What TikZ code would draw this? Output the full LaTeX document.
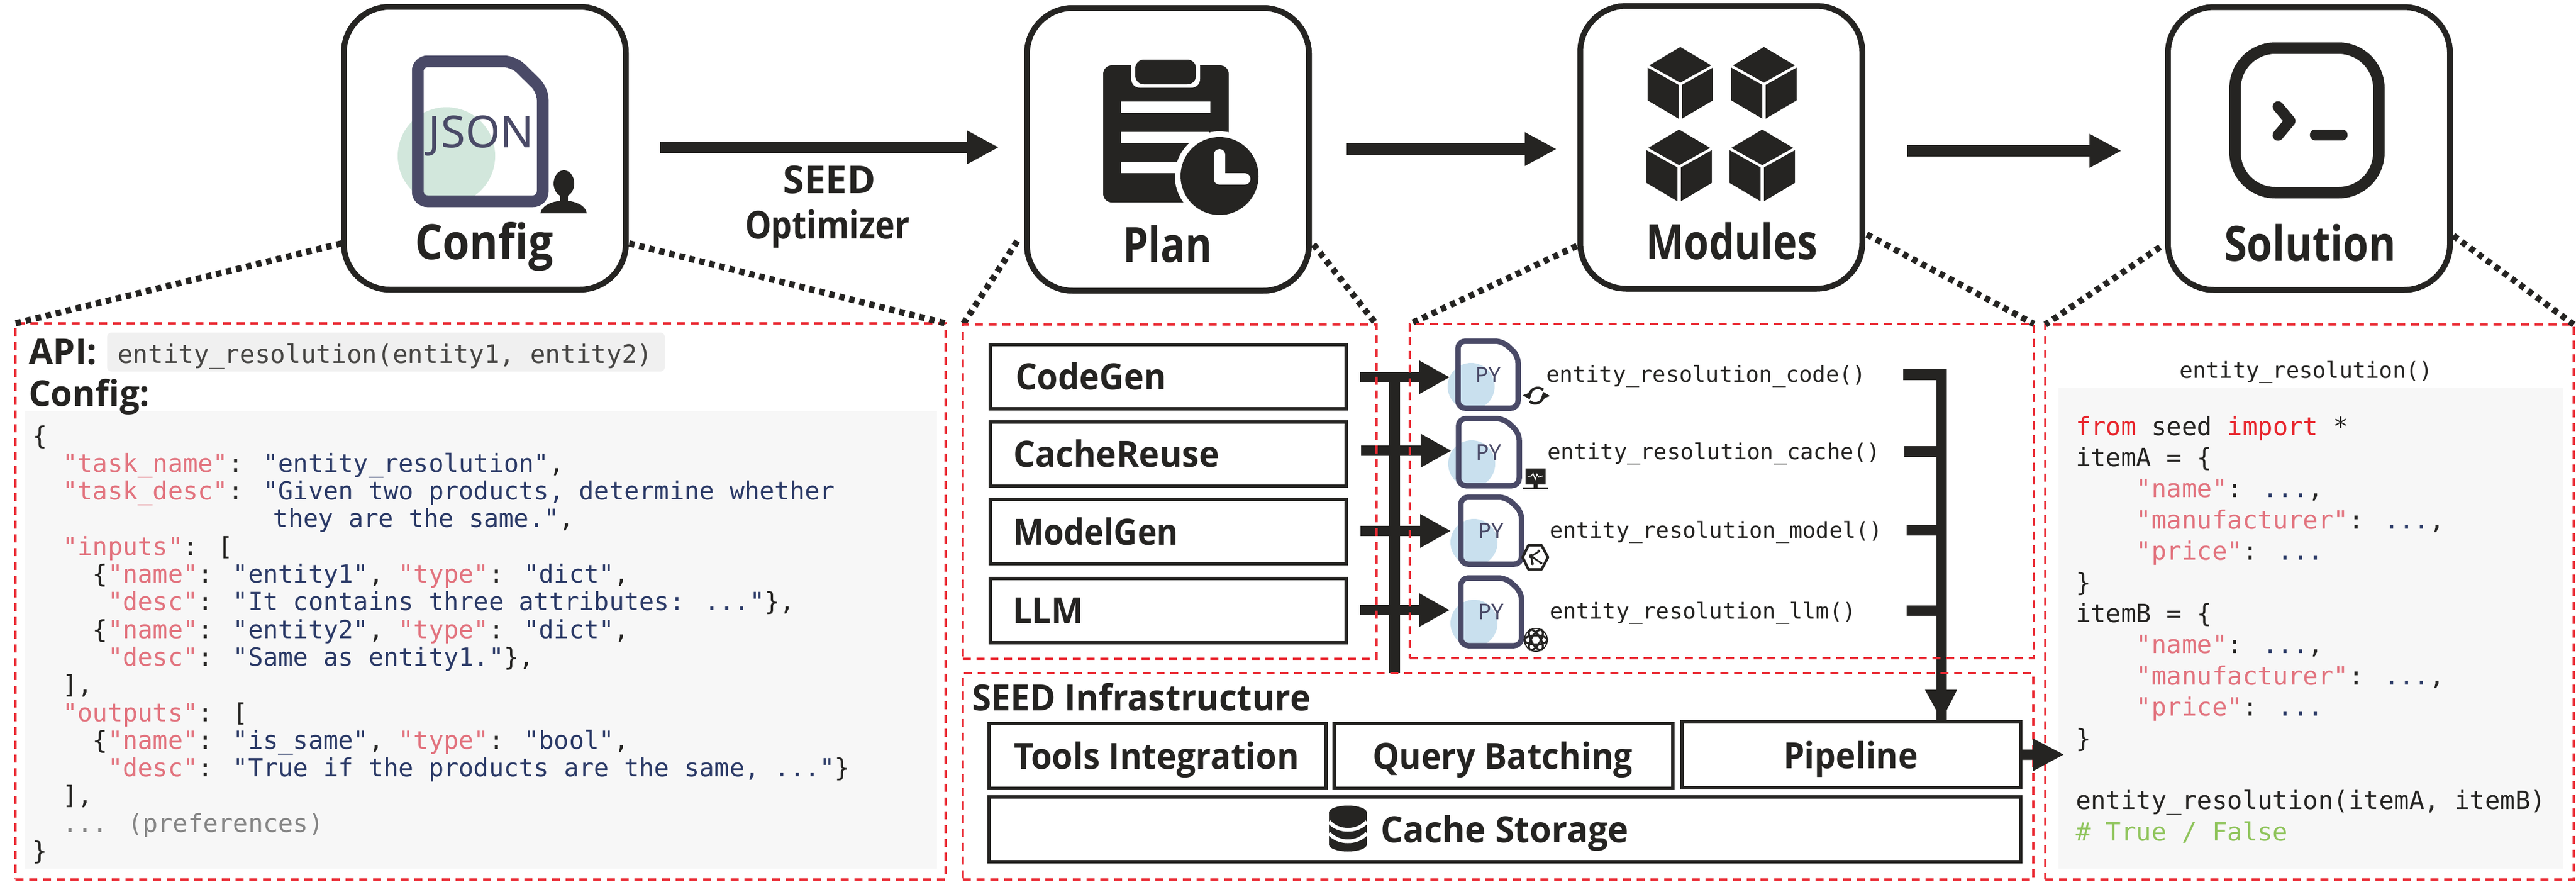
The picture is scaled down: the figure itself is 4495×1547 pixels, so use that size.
\documentclass[tikz,border=0pt]{standalone}
\usepackage{fontspec}
\usepackage{graphicx}
\usetikzlibrary{arrows.meta,calc}
\setmainfont{Open Sans}
\newfontfamily\hd{Open Sans}
\newfontfamily\mono{DejaVu Sans Mono}
\newfontfamily\icontext{Noto Sans}
\definecolor{ink}{HTML}{252422}
\definecolor{redd}{HTML}{EA2A33}
\definecolor{codebg}{HTML}{F7F7F7}
\definecolor{apibg}{HTML}{F0F0F0}
\definecolor{dociconc}{HTML}{4A4A67}
\definecolor{keyc}{HTML}{E2737E}
\definecolor{valc}{HTML}{2B3A67}
\definecolor{grayc}{HTML}{858585}
\definecolor{greenc}{HTML}{8FC45B}
\definecolor{kwc}{HTML}{E8262D}
\definecolor{jsonc}{HTML}{D2E7DC}
\definecolor{pyc}{HTML}{C9E0EE}
\newcommand{\ckey}[1]{\textcolor{keyc}{#1}}
\newcommand{\cval}[1]{\textcolor{valc}{#1}}
\newcommand{\cgr}[1]{\textcolor{grayc}{#1}}
\newcommand{\firstln}{\rule{0pt}{8pt}}
% width in reference pixels (0.2pt each), height kept
\newcommand{\fitw}[2]{\resizebox{#1\dimexpr 0.2pt\relax}{\height}{#2}}
\newcommand{\docpath}[4]{% l t r b
  \draw[dociconc,line width=1.9pt,rounded corners=2.6pt,line join=round] (#1,#2) -- ({#3-27},#2) -- (#3,{#2+25}) -- (#3,#4) -- (#1,#4) -- cycle;}
\newcommand{\pycircle}[2]{\fill[pyc] ({#1+23},{#2+79}) circle[radius=41];}
\newcommand{\pyicon}[5]{% l t r b name
  \docpath{#1}{#2}{#3}{#4}
  \node[font=\icontext\fontsize{7.6}{8}\selectfont,text=dociconc,anchor=base,inner sep=0] (#5) at ({(#1+#3)/2},{#2+72}) {PY};}
\newcommand{\cube}[2]{%
  \fill[ink] (#1,#2) -- ({#1+54},{#2+32}) -- (#1,{#2+62}) -- ({#1-54},{#2+32}) -- cycle;
  \fill[ink] ({#1-57},{#2+36}) -- ({#1-3},{#2+66}) -- ({#1-3},{#2+125}) -- ({#1-57},{#2+93}) -- cycle;
  \fill[ink] ({#1+57},{#2+36}) -- ({#1+3},{#2+66}) -- ({#1+3},{#2+125}) -- ({#1+57},{#2+93}) -- cycle;}
\tikzset{
  bigbox/.style={draw=ink,fill=white,line width=2pt,rounded corners=16pt,minimum width=98.4pt,minimum height=98.6pt,inner sep=0,outer sep=0},
  biglabel/.style={font=\hd\bfseries\fontsize{17}{20}\selectfont,text=ink,anchor=base,inner sep=0},
  sublabel/.style={font=\hd\bfseries\fontsize{13.4}{16}\selectfont,text=ink,anchor=base,inner sep=0},
  boxlabel/.style={font=\hd\bfseries\fontsize{12.6}{15}\selectfont,text=ink,anchor=base,inner sep=0},
  planbox/.style={draw=ink,fill=white,line width=1.2pt,inner sep=0,outer sep=0,minimum width=124.2pt,minimum height=22.4pt},
  infrabox/.style={draw=ink,fill=white,line width=1.2pt,inner sep=0,outer sep=0,minimum height=22.6pt},
  panel/.style={draw=redd,line width=.9pt,dash pattern=on 2.8pt off 2pt,inner sep=0,outer sep=0},
  zoomline/.style={draw=ink,line width=2.2pt,dash pattern=on 1.9pt off 1.7pt},
  fat/.style={draw=ink,line width=3.7pt,-{Triangle[length=10.8pt,width=11pt,color=ink]}},
  fatbig/.style={draw=ink,line width=4pt,-{Triangle[length=11.2pt,width=11pt,color=ink]}},
  stub/.style={draw=ink,line width=3.7pt},
  mono8/.style={font=\mono\fontsize{8.72}{9.66}\selectfont,text=ink,align=left,inner sep=0},
  mono7/.style={font=\mono\fontsize{7.72}{9}\selectfont,text=ink,inner sep=0,anchor=base west},
  bgbox/.style={fill=codebg,inner sep=0,outer sep=0},
}
\begin{document}
\begin{tikzpicture}[x=0.2pt,y=-0.2pt]
\useasboundingbox (0,0) rectangle (4495,1547);
% ---- code backgrounds and panels
\node[bgbox,minimum width=318.4pt,minimum height=159.6pt] (cfgbg) at (839,1116) {};
\node[bgbox,minimum width=176pt,minimum height=167.8pt] (solbg) at (4032,1095.5) {};
\node[fill=apibg,rounded corners=1.5pt,inner sep=0,minimum width=194.6pt,minimum height=13.6pt] (apibg) at (673.5,614) {};
% ---- zoom lines
\node[bigbox] (config) at (846,258.5) {};
\node[bigbox] (plan) at (2038,260.5) {};
\node[bigbox] (modules) at (3003.5,257) {};
\node[bigbox] (solution) at (4029,259) {};
\node[panel,minimum width=324.6pt,minimum height=194pt] (cfgpanel) at (838.5,1049) {};
\node[panel,minimum width=144.4pt,minimum height=116.6pt] (planpanel) at (2041,857.5) {};
\node[panel,minimum width=217.8pt,minimum height=116.6pt] (modpanel) at (3004.5,856.5) {};
\node[panel,minimum width=373.6pt,minimum height=72pt] (infra) at (2614,1354) {};
\node[panel,minimum width=184.4pt,minimum height=193.6pt] (solpanel) at (4030,1050) {};
\draw[zoomline] ([shift={(-4,166)}]config.west) -- (cfgpanel.north west);
\draw[zoomline] ([shift={(6,166)}]config.east) -- (cfgpanel.north east);
\draw[zoomline] ([shift={(-17,160)}]plan.west) -- (planpanel.north west);
\draw[zoomline] ([shift={(8,166)}]plan.east) -- (planpanel.north east);
\draw[zoomline] ([shift={(-6,172)}]modules.west) -- (modpanel.north west);
\draw[zoomline] ([shift={(8,152)}]modules.east) -- (modpanel.north east);
\draw[zoomline] ([shift={(-14,172)}]solution.west) -- (solpanel.north west);
\draw[zoomline] ([shift={(6,152)}]solution.east) -- (solpanel.north east);
% ---- redraw big boxes over lines
\node[bigbox] at (846,258.5) {};
\node[bigbox] at (2038,260.5) {};
\node[bigbox] at (3003.5,257) {};
\node[bigbox] at (4029,259) {};
% ---- labels of big boxes
\node[biglabel] (configt) at (844.5,452) {\fitw{241}{Config}};
\node[biglabel] (plant) at (2037,457) {\fitw{156}{Plan}};
\node[biglabel] (modulest) at (3021.5,452) {\fitw{299}{Modules}};
\node[biglabel] (solutiont) at (4031,455) {\fitw{300}{Solution}};
\node[sublabel] (seedt) at (1447,337) {\fitw{162}{SEED}};
\node[sublabel] (optt) at (1444,416) {\fitw{288}{Optimizer}};
% ---- top arrows
\draw[fatbig] ([shift={(60,-1.5)}]config.east) -- ([shift={(-49,-3.5)}]plan.west);
\draw[fatbig] ([shift={(66,-0.5)}]plan.east) -- ([shift={(-41,3)}]modules.west);
\draw[fatbig] ([shift={(78,6)}]modules.east) -- ([shift={(-81,4)}]solution.west);
% ---- JSON icon
\begin{scope}
\clip (690,180) rectangle (870,351);
\fill[jsonc] (779,272) circle[radius=85];
\end{scope}
\draw[dociconc,line width=4.1pt,rounded corners=3.4pt] (729,107) -- (896,107) -- (947,157) -- (947,351) -- (729,351) -- cycle;
\node[font=\icontext\fontsize{15.4}{18}\selectfont,text=dociconc,anchor=base,inner sep=0] (jsont) at (840,257) {\fitw{184}{JSON}};
% person
\fill[ink] (984,320) ellipse[x radius=18,y radius=23];
\fill[ink] (977,335) rectangle (991,355);
\fill[ink] (943,372) .. controls (945,358) and (965,350) .. (984,350) .. controls (1003,350) and (1022,358) .. (1024,372) -- cycle;
% ---- plan icon
\fill[ink,rounded corners=3pt] (1925,114) rectangle (2144,353);
\fill[white,rounded corners=3pt] (1974,100) rectangle (2094,153);
\fill[ink,rounded corners=3pt] (1981,104) rectangle (2087,147);
\fill[white] (1956,177) rectangle (2112,197);
\fill[white] (1956,230) rectangle (2110,250);
\fill[white] (1956,282) rectangle (2110,302);
\fill[white] (2128,307) circle[radius=78];
\fill[white] (2144,230) rectangle (2160,360);
\fill[ink] (2128,307) circle[radius=68];
\draw[white,line width=4pt,line cap=round,line join=round] (2128,270) -- (2128,312) -- (2172,312);
% ---- cubes
\cube{2932}{82}
\cube{3078}{82}
\cube{2930}{226}
\cube{3075}{226}
% ---- terminal icon
\draw[ink,line width=4pt,rounded corners=14pt] (3900,84) rectangle (4151,336);
\draw[ink,line width=3.8pt,line cap=round,line join=round] (3975,186) -- (3996,211) -- (3975,236);
\draw[ink,line width=3.8pt,line cap=round] (4040,235) -- (4087,235);
% ---- config panel content
\node[boxlabel,anchor=base west,font=\hd\bfseries\fontsize{12.4}{15}\selectfont] (apit) at (49,635) {\fitw{119}{API:}};
\node[mono7,font=\mono\fontsize{8.86}{10}\selectfont,text=ink!85] (apicode) at (204,633) {entity\_resolution(entity1, entity2)};
\node[boxlabel,anchor=base west,font=\hd\bfseries\fontsize{12.4}{15}\selectfont] (cfgt) at (49,708) {\fitw{211}{Config:}};
\node[mono8,anchor=north west] (cfgcode) at (56,734) {\firstln\{\\
~~\ckey{"task\_name"}: \cval{"entity\_resolution"},\\
~~\ckey{"task\_desc"}: \cval{"Given two products, determine whether}\\
~~~~~~~~~~~~~~~~\cval{they are the same."},\\
~~\ckey{"inputs"}: [\\
~~~~\{\ckey{"name"}: \cval{"entity1"}, \ckey{"type"}: \cval{"dict"},\\
~~~~~\ckey{"desc"}: \cval{"It contains three attributes: ..."}\},\\
~~~~\{\ckey{"name"}: \cval{"entity2"}, \ckey{"type"}: \cval{"dict"},\\
~~~~~\ckey{"desc"}: \cval{"Same as entity1."}\},\\
~~],\\
~~\ckey{"outputs"}: [\\
~~~~\{\ckey{"name"}: \cval{"is\_same"}, \ckey{"type"}: \cval{"bool"},\\
~~~~~\ckey{"desc"}: \cval{"True if the products are the same, ..."}\}\\
~~],\\
~~\cgr{... (preferences)}\\
\}};
% ---- plan boxes
\node[planbox] (codegen) at (2038.5,657) {};
\node[planbox] (cachereuse) at (2038.5,792) {};
\node[planbox] (modelgen) at (2038.5,926.5) {};
\node[planbox] (llm) at (2038.5,1064.5) {};
\node[boxlabel,anchor=base west] (codegent) at (1771,679) {\fitw{263}{CodeGen}};
\node[boxlabel,anchor=base west] (cachet) at (1767,814) {\fitw{360}{CacheReuse}};
\node[boxlabel,anchor=base west] (modelt) at (1767,950) {\fitw{288}{ModelGen}};
\node[boxlabel,anchor=base west] (llmt) at (1766,1087) {\fitw{124}{LLM}};
% ---- PY icons
\coordinate (doca) at (2530,658);
\coordinate (docb) at (2533,786);
\coordinate (docc) at (2532,926);
\coordinate (docd) at (2530,1064);
\coordinate (busl) at (2433,649);
\pycircle{2544}{595}
\pycircle{2545}{730}
\pycircle{2549}{867}
\pycircle{2549}{1008}
\draw[stub,line width=3.8pt] (busl) -- (busl |- infra.north);
\draw[fat] ([shift={(24,1)}]codegen.east) -- (doca);
\draw[fat] ([shift={(26,-6)}]cachereuse.east) -- (docb);
\draw[fat] ([shift={(25,-0.5)}]modelgen.east) -- (docc);
\draw[fat] ([shift={(24,-0.5)}]llm.east) -- (docd);
\pyicon{2544}{595}{2649}{712}{pya}
\pyicon{2545}{730}{2651}{847}{pyb}
\pyicon{2549}{867}{2655}{984}{pyd}
\pyicon{2549}{1008}{2655}{1126}{pye}
\node[mono7] (fa) at (2697,666) {entity\_resolution\_code()};
\node[mono7] (fb) at (2699,801) {entity\_resolution\_cache()};
\node[mono7] (fc) at (2703,938) {entity\_resolution\_model()};
\node[mono7] (fd) at (2703,1079) {entity\_resolution\_llm()};
% small icons
\draw[ink,line width=.9pt,-{Triangle[length=2.2pt,width=3.4pt]}] (2693,680) arc[start angle=-50,end angle=-200,radius=15];
\draw[ink,line width=.9pt,-{Triangle[length=2.2pt,width=3.4pt]}] (2669,700) arc[start angle=130,end angle=-20,radius=15];
\fill[ink] (2662,817) rectangle (2697,845);
\fill[ink] (2676,845) rectangle (2683,850);
\fill[ink] (2657,850) rectangle (2701,852.5);
\draw[white,line width=.3pt] (2667,831) -- (2672,830) -- (2675,826) -- (2679,836) -- (2682,827) -- (2685,832) -- (2692,830);
\draw[ink,line width=.9pt,line join=round] (2657,972) -- (2667,951) -- (2690,951) -- (2701,972) -- (2690,993) -- (2667,993) -- cycle;
\draw[ink,line width=.6pt] (2685,962) -- (2672,970) -- (2674,983);
\draw[ink,line width=.6pt] (2672,970) -- (2689,982);
\fill[ink] (2672,970) circle[radius=4];
\fill[ink] (2685,961) circle[radius=2.5];
\fill[ink] (2674,983) circle[radius=2.5];
\fill[ink] (2689,982) circle[radius=2.5];
\foreach \a in {0,60,120}{\draw[ink,line width=.7pt] (2680,1116) ellipse[x radius=20,y radius=8,rotate=\a];}
\draw[ink,line width=.4pt] (2680,1116) circle[radius=20];
% ---- right bus
\coordinate (bja) at (3388,644);
\coordinate (fsa) at (3321,653.5);
\coordinate (fsb) at (3323,787.5);
\coordinate (fsc) at (3327,925);
\coordinate (fsd) at (3327,1065);
% ---- infrastructure
\node[boxlabel,anchor=base west] (infrat) at (1695,1239) {\fitw{591}{SEED Infrastructure}};
\node[infrabox,minimum width=117.6pt] (tools) at (2020,1318.5) {};
\node[infrabox,minimum width=118.2pt] (query) at (2623.5,1318.5) {};
\node[infrabox,minimum width=118.2pt,minimum height=23pt] (pipeline) at (3230.5,1316.5) {};
\node[infrabox,minimum width=360pt] (cache) at (2626,1446.5) {};
\node[boxlabel] (toolst) at (2018,1341) {\fitw{498}{Tools Integration}};
\node[boxlabel] (queryt) at (2622,1341) {\fitw{454}{Query Batching}};
\node[boxlabel] (pipet) at (3229.5,1340) {\fitw{235}{Pipeline}};
\node[boxlabel,anchor=base west] (cachet2) at (2408,1469) {\fitw{433}{Cache Storage}};
% db icon
\fill[ink] (2319,1417) rectangle (2385,1473);
\fill[ink] (2352,1417) ellipse[x radius=33,y radius=12];
\fill[ink] (2352,1473) ellipse[x radius=33,y radius=12];
\draw[white,line width=1.3pt] (2319,1433) .. controls (2335,1452) and (2369,1452) .. (2385,1433);
\draw[white,line width=1.3pt] (2319,1453) .. controls (2335,1472) and (2369,1472) .. (2385,1453);
% ---- stubs and bus
\draw[stub] (bja) -- (bja |- pipeline.north) ;
\draw[stub] (fsa) -- (fsa -| bja);
\draw[stub] (fsb) -- (fsb -| bja);
\draw[stub] (fsc) -- (fsc -| bja);
\draw[stub] (fsd) -- (fsd -| bja);
\fill[ink] (3359,1203) -- (3415,1203) -- (3388,1256) -- cycle;
% ---- panels over arrows
\node[panel,minimum width=144.4pt,minimum height=116.6pt] at (2041,857.5) {};
\node[panel,minimum width=217.8pt,minimum height=116.6pt] at (3004.5,856.5) {};
\node[panel,minimum width=373.6pt,minimum height=72pt] at (2614,1354) {};
% ---- solution content
\node[mono7,anchor=base] (soltitle) at (4024,659) {entity\_resolution()};
\node[mono8,font=\mono\fontsize{8.79}{10.88}\selectfont,anchor=north west] (solcode) at (3621,718) {\firstln\textcolor{kwc}{from} seed \textcolor{kwc}{import} *\\
itemA = \{\\
~~~~\ckey{"name"}: \cval{...},\\
~~~~\ckey{"manufacturer"}: \cval{...},\\
~~~~\ckey{"price"}: \cval{...}\\
\}\\
itemB = \{\\
~~~~\ckey{"name"}: \cval{...},\\
~~~~\ckey{"manufacturer"}: \cval{...},\\
~~~~\ckey{"price"}: \cval{...}\\
\}\\
~\\
entity\_resolution(itemA, itemB)\\
\textcolor{greenc}{\# True / False}};
\draw[ink,line width=3.6pt,-{Triangle[length=11pt,width=10.6pt,color=ink]}] (pipeline.east) -- ([shift={(76,-0.5)}]pipeline.east);
\end{tikzpicture}
\end{document}
